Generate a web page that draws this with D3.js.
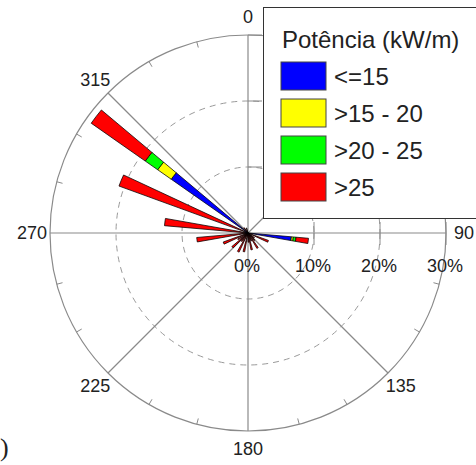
<!DOCTYPE html>
<html>
<head>
<meta charset="utf-8">
<script src="https://cdn.jsdelivr.net/npm/d3@7"></script>
<style>
  html, body { margin: 0; padding: 0; background: #fff; }
  svg { display: block; }
  text { font-family: "Liberation Sans", Arial, sans-serif; fill: #222; }
</style>
</head>
<body>
<svg id="chart" width="476" height="465"></svg>
<script>
// ---- data (percent of occurrence per 5° direction bin) ----
const directions = [97.5, 112.5, 127.5, 137.5, 147.5, 157.5, 167.5, 177.5, 192.5, 207.5, 217.5, 227.5, 237.5, 247.5, 262.5, 277.5, 292.5, 307.5, 322.5, 342.5];
const classes    = ["<=15", ">15 - 20", ">20 - 25", ">25"];
const colors     = ["#0000ff", "#ffff00", "#00ff00", "#ff0000"];
const sLe15      = [6.6, 0,   0,   0,   0,   0,   0,   0,   0,   0,   0,   0,   0,   0,   0,   0,    0.5,  14.2, 0,   0];
const s15to20    = [0.3, 0,   0,   0,   0,   0,   0,   0,   0,   0,   0,   0,   0,   0,   0,   0,    0,    2.5,  0,   0];
const s20to25    = [0.4, 0,   0,   0,   0,   0,   0,   0,   0,   0,   0,   0,   0,   0,   0,   0,    0,    2.3,  0,   0];
const sGt25      = [1.9, 3.3, 1.2, 1.5, 2.7, 1.3, 2.6, 1.4, 2.9, 3.2, 1.6, 3.2, 1.8, 4.0, 7.8, 12.7, 20.3, 10.0, 1.0, 0.8];
const angleTicks = [0, 45, 90, 135, 180, 225, 270, 315];
const radialTicks = [0, 10, 20, 30];
const binWidth = 5;

const svg = d3.select("#chart");
const cx = 248, cy = 233, R = 198;
const r = d3.scaleLinear().domain([0, 30]).range([0, R]);
const rad = d => d * Math.PI / 180;
const g = svg.append("g").attr("transform", `translate(${cx},${cy})`);

// grid: dashed circles
g.selectAll("circle.grid").data([10, 20]).enter().append("circle")
  .attr("r", d => r(d)).attr("fill", "none")
  .attr("stroke", "#9a9a9a").attr("stroke-width", 1).attr("stroke-dasharray", "6,5");
// outer circle
g.append("circle").attr("r", r(30)).attr("fill", "none").attr("stroke", "#8a8a8a").attr("stroke-width", 1.2);
// spokes
g.selectAll("line.spoke").data(angleTicks).enter().append("line")
  .attr("x1", 0).attr("y1", 0)
  .attr("x2", d => R * Math.sin(rad(d))).attr("y2", d => -R * Math.cos(rad(d)))
  .attr("stroke", "#8a8a8a").attr("stroke-width", 1.2);
// minor ticks on outer circle every 15°
g.selectAll("line.tick").data(d3.range(0, 360, 15).filter(a => a % 45 !== 0)).enter().append("line")
  .attr("x1", d => R * Math.sin(rad(d))).attr("y1", d => -R * Math.cos(rad(d)))
  .attr("x2", d => (R - 6) * Math.sin(rad(d))).attr("y2", d => -(R - 6) * Math.cos(rad(d)))
  .attr("stroke", "#8a8a8a").attr("stroke-width", 1);
// radial axis ticks on horizontal axis and vertical axis
g.selectAll("line.rt").data(radialTicks.slice(1)).enter().append("line")
  .attr("x1", d => r(d)).attr("x2", d => r(d)).attr("y1", -11).attr("y2", 12)
  .attr("stroke", "#8a8a8a").attr("stroke-width", 1);
g.selectAll("line.rtv").data(radialTicks.slice(1)).enter().append("line")
  .attr("y1", d => -r(d)).attr("y2", d => -r(d)).attr("x1", 0).attr("x2", 14)
  .attr("stroke", "#8a8a8a").attr("stroke-width", 1);

// stacked wedges
const series = [sLe15, s15to20, s20to25, sGt25];
const arc = d3.arc();
const segs = [];
directions.forEach((dir, i) => {
  let acc = 0;
  series.forEach((s, k) => {
    const v = s[i];
    if (v > 0) {
      segs.push({dir, k, y0: acc, y1: acc + v});
      acc += v;
    }
  });
});
g.selectAll("path.seg").data(segs).enter().append("path")
  .attr("d", d => arc({
    innerRadius: r(d.y0), outerRadius: r(d.y1),
    startAngle: rad(d.dir - binWidth / 2), endAngle: rad(d.dir + binWidth / 2)
  }))
  .attr("fill", d => colors[d.k])
  .attr("stroke", "#000").attr("stroke-width", 0.75).attr("stroke-linejoin", "round");

// angle labels
g.selectAll("text.ang").data(angleTicks).enter().append("text")
  .attr("x", d => 216 * Math.sin(rad(d))).attr("y", d => -216 * Math.cos(rad(d)))
  .attr("text-anchor", "middle").attr("dominant-baseline", "central")
  .attr("font-size", 18).text(d => d);

// radial labels
g.selectAll("text.rl").data(radialTicks).enter().append("text")
  .attr("x", d => r(d) - 1).attr("y", 39)
  .attr("text-anchor", "middle").attr("font-size", 18).text(d => d + "%");

// legend
const lg = svg.append("g");
lg.append("rect").attr("x", 263.5).attr("y", 7.5).attr("width", 230).attr("height", 211)
  .attr("fill", "#fff").attr("stroke", "#333").attr("stroke-width", 1);
lg.append("text").attr("x", 282).attr("y", 48).attr("font-size", 24).text("Potência (kW/m)");
classes.forEach((c, i) => {
  const y = 62 + i * 37;
  lg.append("rect").attr("x", 281).attr("y", y).attr("width", 45).attr("height", 28)
    .attr("fill", colors[i]).attr("stroke", "#444").attr("stroke-width", 1);
  lg.append("text").attr("x", 334).attr("y", y + 23).attr("font-size", 24).text(c);
});

// cut-off caption fragment
svg.append("text").attr("x", 0).attr("y", 456)
  .style("font-family", "'Liberation Serif', 'Times New Roman', serif")
  .attr("font-size", 26).text(")");
</script>
</body>
</html>
